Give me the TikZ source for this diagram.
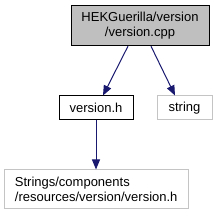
\documentclass[tikz,border=0pt]{standalone}
\usepackage{fontspec}
\setmainfont{Liberation Sans}
\usepackage{xcolor}
\usetikzlibrary{calc,arrows.meta,positioning}

\definecolor{edgeblue}{RGB}{25,25,112}
\definecolor{boxgray}{RGB}{191,191,191}
\definecolor{linegray}{RGB}{196,196,196}

\tikzset{
  filebox/.style={draw=black, line width=1pt, inner sep=0pt,
    font=\fontsize{13}{14.3}\selectfont},
  extbox/.style={filebox, draw=linegray},
  edge/.style={draw=edgeblue, line width=1pt,
    -{Triangle[length=10pt,width=8pt]}}
}

\begin{document}
\begin{tikzpicture}[x=1pt,y=-1pt]
\useasboundingbox (0,0) rectangle (217,216);
\node[filebox, fill=boxgray, minimum width=138pt, minimum height=40pt, align=center]
  (cpp) at (140,25.7) {HEKGuerilla/version\\/version.cpp};
\node[filebox, minimum width=74pt, minimum height=24pt] (vh) at (96,108) {version.h};
\node[extbox, minimum width=55pt, minimum height=24pt] (str) at (184.5,108) {string};
\node[extbox, minimum width=184pt, minimum height=39pt, align=left]
  (comp) at (96.2,189.5) {Strings/components\\/resources/version/version.h};
\draw[edge] ([xshift=-12pt]cpp.south) -- ([xshift=7pt]vh.north);
\draw[edge] ([xshift=11pt]cpp.south) -- ([xshift=-9.5pt]str.north);
\draw[edge] (vh.south) -- (comp.north -| vh.south);
\end{tikzpicture}
\end{document}
